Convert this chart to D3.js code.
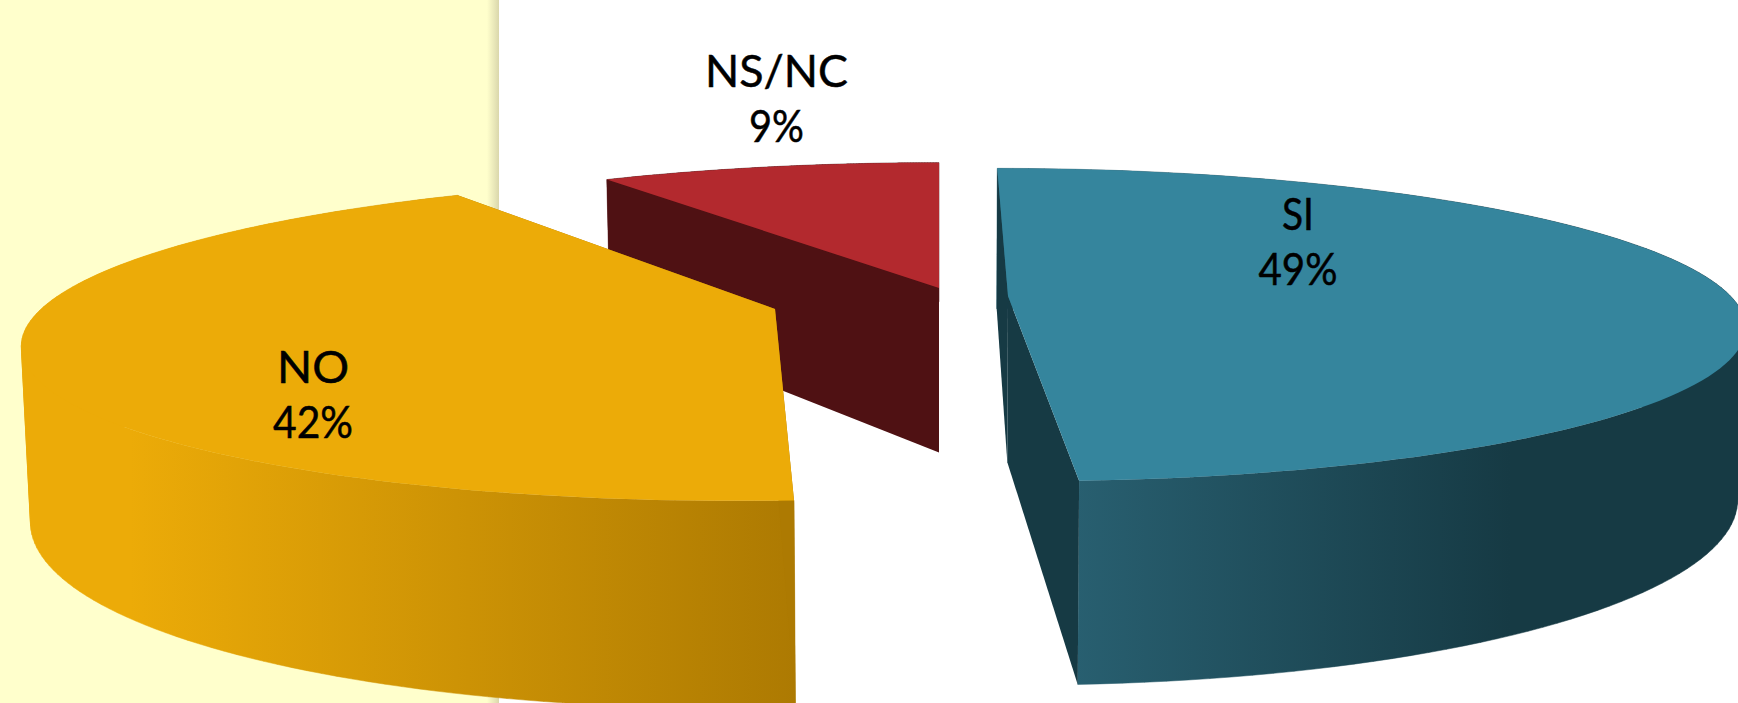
<!DOCTYPE html>
<html>
<head>
<meta charset="utf-8">
<script src="https://cdnjs.cloudflare.com/ajax/libs/d3/7.8.5/d3.min.js"></script>
<style>
  html, body { margin: 0; padding: 0; background: #fff; overflow: hidden; }
  svg { display: block; }
  text { font-family: Lato, "Noto Sans", sans-serif; fill: #000; stroke: #000; stroke-width: 0.5; }
</style>
</head>
<body>
<div class="svg-container"></div>
<script>
// data
const categories = ["SI", "NO", "NS/NC"];
const values = [49, 42, 9];

const w = 1738;
const h = 703;

// camera for the tilted pie
const vanishX = 939;
const horizonY = -525;
const planeB = 825;
const radius = 726;
const camDist = radius / 0.185;
const depth = 167;
const bottomShrink = 0.99;

// where the tip of each slice ends up on screen, same order as categories
const tips = [[1008, 296], [775, 309], [939, 288]];
const topColors = ["#35859D", "#ECAB08", "#B3292E"];
const sideColors = ["#163A44", "#AD7A02", "#4F1113"];
const wallStops = [
  [[1076, "#285F70"], [1510, "#163A44"]],
  [[130, "#ECAB08"], [795, "#AD7A02"]],
  [[600, "#4F1113"], [939, "#4F1113"]]
];
// label anchor, width of name and width of percent
const labelPos = [
  { x: 1298, y1: 230, y2: 285, w1: 32, w2: 79 },
  { x: 313, y1: 383, y2: 438, w1: 72, w2: 80 },
  { x: 776.5, y1: 87, y2: 142, w1: 143, w2: 55 }
];
const drawOrder = [2, 0, 1];

const pie = d3.pie().sort(null).value(d => d)(values);

function project(wx, wy, z) {
  const s = 1 / (1 - wy / camDist);
  return [
    vanishX + wx * s * (z ? bottomShrink : 1),
    horizonY + (planeB + z * depth) * s
  ];
}

function tipWorld(tip) {
  const s = (tip[1] - horizonY) / planeB;
  return [(tip[0] - vanishX) / s, camDist * (1 - 1 / s)];
}

// points along the rim of a slice
function rim(i, z) {
  const t = tipWorld(tips[i]);
  const a0 = pie[i].startAngle;
  const a1 = pie[i].endAngle;
  return d3.range(0, 121).map(k => {
    const a = a0 + (a1 - a0) * k / 120;
    return project(t[0] + radius * Math.sin(a), t[1] - radius * Math.cos(a), z);
  });
}

const line = d3.line();

// wall as a strip of quads, all wound the same way so they fill as a union
function wallPath(topRim, botRim) {
  let d = "";
  for (let k = 0; k < topRim.length - 1; k++) {
    const quad = [topRim[k], topRim[k + 1], botRim[k + 1], botRim[k]];
    if (d3.polygonArea(quad) < 0) quad.reverse();
    d += line(quad) + "Z";
  }
  return d;
}

const svg = d3.select(".svg-container")
  .append("svg")
  .attr("width", w)
  .attr("height", h);

const defs = svg.append("defs");

const bgShadow = defs.append("linearGradient")
  .attr("id", "bgShadow");
bgShadow.append("stop").attr("offset", "0%").attr("stop-color", "#FFFFCC");
bgShadow.append("stop").attr("offset", "100%").attr("stop-color", "#DAD7AC");

wallStops.forEach((stops, i) => {
  const g = defs.append("linearGradient")
    .attr("id", "wall" + i)
    .attr("gradientUnits", "userSpaceOnUse")
    .attr("x1", stops[0][0])
    .attr("x2", stops[1][0])
    .attr("y1", 0)
    .attr("y2", 0);
  g.append("stop").attr("offset", "0%").attr("stop-color", stops[0][1]);
  g.append("stop").attr("offset", "100%").attr("stop-color", stops[1][1]);
});

// background
svg.append("rect").attr("width", w).attr("height", h).attr("fill", "#fff");
svg.append("rect").attr("width", 487).attr("height", h).attr("fill", "#FFFFCC");
svg.append("rect").attr("x", 487).attr("width", 12).attr("height", h).attr("fill", "url(#bgShadow)");

// SLICES
drawOrder.forEach(i => {
  const g = svg.append("g").attr("class", "slice").attr("data-name", categories[i]);
  const t = tipWorld(tips[i]);
  const topRim = rim(i, 0);
  const botRim = rim(i, 1);
  const tipTop = project(t[0], t[1], 0);
  const tipBot = project(t[0], t[1], 1);

  // outer wall
  g.append("path")
    .attr("d", wallPath(topRim, botRim))
    .attr("fill", "url(#wall" + i + ")")
    .attr("stroke", "url(#wall" + i + ")")
    .attr("stroke-width", 0.5);

  // the two cut faces
  [0, topRim.length - 1].forEach(k => {
    g.append("path")
      .attr("d", line([tipTop, topRim[k], botRim[k], tipBot]) + "Z")
      .attr("fill", sideColors[i]);
  });

  // top face
  g.append("path")
    .attr("d", line([tipTop].concat(topRim)) + "Z")
    .attr("fill", topColors[i]);
});

// LABELS
drawOrder.forEach(i => {
  const p = labelPos[i];
  svg.append("text")
    .attr("x", p.x)
    .attr("y", p.y1)
    .attr("text-anchor", "middle")
    .attr("font-size", 44)
    .attr("textLength", p.w1)
    .attr("lengthAdjust", "spacingAndGlyphs")
    .text(categories[i]);
  svg.append("text")
    .attr("x", p.x)
    .attr("y", p.y2)
    .attr("text-anchor", "middle")
    .attr("font-size", 44)
    .attr("textLength", p.w2)
    .attr("lengthAdjust", "spacingAndGlyphs")
    .text(values[i] + "%");
});
</script>
</body>
</html>
